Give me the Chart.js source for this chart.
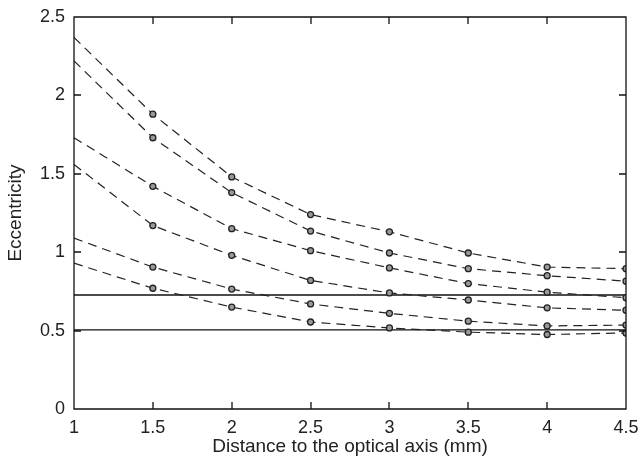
<!doctype html>
<html lang="en">
  <head>
    <meta charset="utf-8">
    <title>Eccentricity</title>
    <style>
      body { margin: 0; background: #fff; }
      #wrap { width: 640px; height: 462px; }
    </style>
  </head>
  <body>
    <div id="wrap"><canvas id="ecc"></canvas></div>

    <script src="https://cdn.jsdelivr.net/npm/chart.js"></script>
    <script>
        // distance to optical axis (mm)
        const xVals = [1, 1.5, 2, 2.5, 3, 3.5, 4, 4.5];

        // eccentricity curves, top to bottom
        const curve1 = [2.37, 1.88, 1.48, 1.24, 1.13, 0.995, 0.905, 0.895];
        const curve2 = [2.22, 1.73, 1.38, 1.135, 0.995, 0.895, 0.85, 0.815];
        const curve3 = [1.73, 1.42, 1.15, 1.01, 0.90, 0.80, 0.745, 0.71];
        const curve4 = [1.56, 1.17, 0.98, 0.82, 0.74, 0.695, 0.645, 0.63];
        const curve5 = [1.09, 0.905, 0.765, 0.67, 0.61, 0.56, 0.53, 0.535];
        const curve6 = [0.93, 0.77, 0.65, 0.555, 0.517, 0.49, 0.475, 0.485];

        // reference levels
        const refLevels = [0.727, 0.505];
        const xRange = [1, 4.5];

        const xTicks = [1, 1.5, 2, 2.5, 3, 3.5, 4, 4.5];
        const yTicks = [0, 0.5, 1, 1.5, 2, 2.5];

        const curves = [curve1, curve2, curve3, curve4, curve5, curve6];

        const datasets = curves.map(c => ({
            data: xVals.map((x, i) => ({x: x, y: c[i]})),
            borderColor: '#222',
            borderWidth: 1.2,
            borderDash: [9, 6],
            pointRadius: ctx => (ctx.raw && ctx.raw.x === 1) ? 0 : 3,
            pointBackgroundColor: '#999',
            pointBorderColor: '#222',
            pointBorderWidth: 1.3,
            tension: 0
        }));

        refLevels.forEach(v => {
            datasets.push({
                data: xRange.map(x => ({x: x, y: v})),
                borderColor: '#111',
                borderWidth: 1.3,
                pointRadius: 0,
                tension: 0
            });
        });

        // box around the axes with ticks pointing inwards
        const boxTicks = {
            id: 'boxTicks',
            afterDraw(chart) {
                const {ctx, chartArea: a, scales} = chart;
                ctx.save();
                ctx.setLineDash([]);
                ctx.strokeStyle = '#111';
                ctx.lineWidth = 1.3;
                ctx.beginPath();
                ctx.rect(a.left, a.top, a.right - a.left, a.bottom - a.top);
                xTicks.forEach(t => {
                    const px = Math.round(scales.x.getPixelForValue(t));
                    ctx.moveTo(px, a.bottom); ctx.lineTo(px, a.bottom - 7);
                    ctx.moveTo(px, a.top); ctx.lineTo(px, a.top + 7);
                });
                yTicks.forEach(t => {
                    const py = Math.round(scales.y.getPixelForValue(t));
                    ctx.moveTo(a.left, py); ctx.lineTo(a.left + 7, py);
                    ctx.moveTo(a.right, py); ctx.lineTo(a.right - 7, py);
                });
                ctx.stroke();
                ctx.restore();
            }
        };

        const fam = 'Liberation Sans, Arial, sans-serif';
        const tickFont = {family: fam, size: 18};
        const plain = v => String(v);

        new Chart(document.getElementById('ecc'), {
            type: 'line',
            data: {datasets: datasets},
            options: {
                responsive: true,
                maintainAspectRatio: false,
                animation: false,
                layout: {padding: {top: 17, right: 14, left: 0, bottom: 0}},
                plugins: {legend: {display: false}, tooltip: {enabled: false}},
                scales: {
                    x: {
                        type: 'linear',
                        min: 1, max: 4.5,
                        afterBuildTicks: s => { s.ticks = xTicks.map(v => ({value: v})); },
                        afterFit: s => { s.height = 53; s.paddingLeft = 0; s.paddingRight = 0; },
                        grid: {display: false, drawTicks: false},
                        border: {display: false},
                        ticks: {color: '#222', font: tickFont, padding: 8, maxRotation: 0, callback: plain},
                        title: {
                            display: true,
                            text: 'Distance to the optical axis (mm)',
                            color: '#222',
                            font: {family: fam, size: 19},
                            padding: {top: 0}
                        }
                    },
                    y: {
                        min: 0, max: 2.5,
                        afterBuildTicks: s => { s.ticks = yTicks.map(v => ({value: v})); },
                        afterFit: s => { s.width = 74; s.paddingTop = 0; s.paddingBottom = 0; },
                        grid: {display: false, drawTicks: false},
                        border: {display: false},
                        ticks: {color: '#222', font: tickFont, padding: 9, callback: plain},
                        title: {
                            display: true,
                            text: 'Eccentricity',
                            color: '#222',
                            font: {family: fam, size: 19},
                            padding: {bottom: 2}
                        }
                    }
                }
            },
            plugins: [boxTicks]
        });
    </script>
  </body>
</html>
